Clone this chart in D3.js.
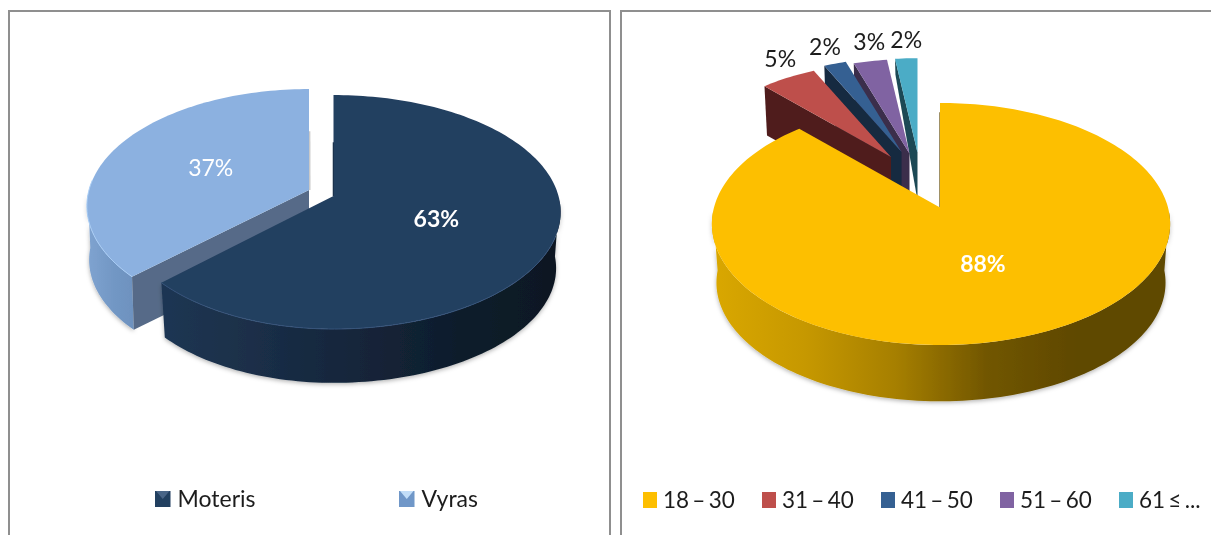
<!DOCTYPE html>
<html>
<head>
<meta charset="utf-8">
<script src="https://cdn.jsdelivr.net/npm/d3@7"></script>
<style>
html, body { margin: 0; padding: 0; background: #fff; overflow: hidden; }
text { font-family: Lato, "Open Sans", sans-serif; }
</style>
</head>
<body>
<div id="chart"></div>
<script>
// data
let genders = ["Moteris", "Vyras"];
let genderValues = [63, 37];
let ages = ["18 – 30", "31 – 40", "41 – 50", "51 – 60", "61 ≤ ..."];
let ageValues = [88, 5, 2, 3, 2];

// colours
let genderTop = ["#243f60", "#8cb1e0"];
let genderFace = ["#16283d", "#566b88"];
let ageTop = ["#fdbf00", "#be504c", "#366092", "#8064a2", "#4bacc6"];
let ageFace = ["#6a5000", "#4f1f1e", "#16293f", "#3b2d4b", "#1f4a55"];

let width = 1211, height = 535;
let chart = d3.select("#chart").append("svg")
    .attr("width", width)
    .attr("height", height);

let defs = chart.append("defs");
let soft = defs.append("filter").attr("id", "soft")
    .attr("x", "-2%").attr("y", "-2%").attr("width", "104%").attr("height", "104%");
soft.append("feGaussianBlur").attr("stdDeviation", 0.45);
let shadow = defs.append("filter").attr("id", "shadow")
    .attr("x", "-10%").attr("y", "-10%").attr("width", "120%").attr("height", "120%");
shadow.append("feDropShadow")
    .attr("dx", 0).attr("dy", 1.5).attr("stdDeviation", 2)
    .attr("flood-color", "#000").attr("flood-opacity", 0.3);

let root = chart.append("g").attr("filter", "url(#soft)");

function makeGradient(id, x1, x2, colors) {
    let g = defs.append("linearGradient").attr("id", id)
        .attr("gradientUnits", "userSpaceOnUse")
        .attr("x1", x1).attr("x2", x2).attr("y1", 0).attr("y2", 0);
    colors.forEach(function(c, i) {
        g.append("stop").attr("offset", i / (colors.length - 1)).attr("stop-color", c);
    });
}
makeGradient("sideDark", 162, 555, ["#1e3653", "#1a2e47", "#14253a", "#0f1d2c", "#0c1823"]);
makeGradient("sideLight", 88, 140, ["#7fa3d0", "#7297c4", "#6c90bd"]);
makeGradient("sideYellow", 715, 1168, ["#d9a700", "#c69800", "#a67f00", "#715600", "#5f4800", "#5f4800"]);

// panels
let line = d3.line();
root.append("path")
    .attr("d", line([[9, height + 5], [9, 11], [610, 11], [610, height + 5]]))
    .attr("fill", "none").attr("stroke", "#8f8f8f").attr("stroke-width", 2);
root.append("path")
    .attr("d", line([[621, height + 5], [621, 11], [width + 5, 11]]))
    .attr("fill", "none").attr("stroke", "#8f8f8f").attr("stroke-width", 2);

// pie seen from above with some perspective
function project(geo, angle, r) {
    let u = r * Math.sin(angle);
    let v = -r * Math.cos(angle);
    let w = 1 - geo.q * v;
    let a = u < 0 ? geo.aLeft : geo.aRight;
    return [geo.x + a * u / w, geo.y + geo.b * v / w];
}
function lower(geo, p, depth) {
    let s = geo.shrink || 0.98;
    return [geo.x + (p[0] - geo.x) * s, geo.y + (p[1] - geo.y) * s + depth];
}
function arcPoints(geo, a0, a1, r) {
    let n = Math.max(2, Math.ceil((a1 - a0) * 40));
    return d3.range(n + 1).map(function(i) {
        return project(geo, a0 + (a1 - a0) * i / n, r);
    });
}

let toRad = Math.PI / 180;

function drawSlice(d, geo, top, face, side) {
    let r = geo.r || 1;
    let outer = arcPoints(geo, d.startAngle, d.endAngle, r);
    let apex = [geo.x, geo.y];
    if (side) {
        // only the front of the rim can be seen
        let front = arcPoints(geo, Math.max(d.startAngle, 92 * toRad), Math.min(d.endAngle, 268 * toRad), r);
        root.append("path")
            .attr("d", line(front.concat(front.map(function(p) { return lower(geo, p, geo.depth); }).reverse())) + "Z")
            .attr("fill", side)
            .attr("filter", "url(#shadow)");
    }
    // radial face on the left of the slice
    let tip = outer[0];
    if (face) {
        let tipDepth = geo.tipDepth === undefined ? geo.depth : geo.tipDepth;
        root.append("path")
            .attr("d", line([apex, tip, lower(geo, tip, tipDepth), lower(geo, apex, geo.depth)]) + "Z")
            .attr("fill", face);
    }
    root.append("path")
        .attr("d", line([apex].concat(outer)) + "Z")
        .attr("fill", top);
}

function rim(geo, a0, a1, color) {
    root.append("path")
        .attr("d", line(arcPoints(geo, a0, a1, 1)))
        .attr("fill", "none").attr("stroke", color).attr("stroke-width", 1);
}
function edge(geo, angle, r0, color, w) {
    root.append("path")
        .attr("d", line([project(geo, angle, r0), project(geo, angle, 0)]))
        .attr("fill", "none").attr("stroke", color).attr("stroke-width", w);
}

let pie = d3.pie().sort(null).value(function(d) { return d; });

// left pie
let genderPie = pie(genderValues);
let darkGeo = { x: 333.5, y: 196, q: 0.137, b: 114.8, aLeft: 214, aRight: 225, depth: 56.5 };
let lightGeo = { x: 309, y: 190, q: 0.137, b: 114.8, aLeft: 220, aRight: 225, depth: 54, shrink: 0.99 };

edge(lightGeo, 2 * Math.PI - 0.001, 0.55, "#c9c9c9", 3);
drawSlice(genderPie[1], lightGeo, genderTop[1], genderFace[1], "url(#sideLight)");
rim(lightGeo, genderPie[1].startAngle, 275 * toRad, "#a9cdf5");
edge(darkGeo, 0, 0.5, "#16283d", 1.5);
drawSlice(genderPie[0], darkGeo, genderTop[0], null, "url(#sideDark)");
rim(darkGeo, 110 * toRad, genderPie[0].endAngle, "#35537a");

// right pie, the small slices are pulled out behind the big one
let agePie = pie(ageValues);
let yellowGeo = { x: 940, y: 207.5, q: 0.136, b: 118.8, aLeft: 226, aRight: 228, depth: 59 };
let apexX = [940, 891, 901.5, 909.5, 917.5];
let apexY = [207.5, 157, 152, 153.5, 152.5];
let tipDepths = [59, 48, 48, 48, 14];
let labelDx = [0, -8, -10, -1, 0];
let labelDy = [0, -18.5, -16.5, -19.5, -19];

function smallGeo(i) {
    return { x: apexX[i], y: apexY[i], q: 0.136, b: 118.8, aLeft: 226, aRight: 228, depth: 48, tipDepth: tipDepths[i], r: 0.89 };
}
for (let i = ages.length - 1; i > 0; i--) {
    drawSlice(agePie[i], smallGeo(i), ageTop[i], ageFace[i], null);
}
edge(yellowGeo, 0, 0.9, "#5f4800", 1.2);
drawSlice(agePie[0], yellowGeo, ageTop[0], null, "url(#sideYellow)");

// slice labels
function pieLabel(p, txt, color, weight, size) {
    root.append("text")
        .attr("x", p[0]).attr("y", p[1])
        .attr("text-anchor", "middle").attr("dy", "0.36em")
        .attr("fill", color).attr("font-weight", weight).attr("font-size", size)
        .text(txt);
}
function mid(d) { return (d.startAngle + d.endAngle) / 2; }

pieLabel(project(darkGeo, mid(genderPie[0]), 0.485), genderValues[0] + "%", "#fff", 700, 23);
pieLabel(project(lightGeo, mid(genderPie[1]), 0.5), genderValues[1] + "%", "#fff", 400, 23);
pieLabel(project(yellowGeo, mid(agePie[0]), 0.48), ageValues[0] + "%", "#fff", 700, 23);
agePie.slice(1).forEach(function(d, k) {
    let i = k + 1;
    let p = project(smallGeo(i), mid(d), 0.89);
    pieLabel([p[0] + labelDx[i], p[1] + labelDy[i]], ageValues[i] + "%", "#1c1c1c", 400, 23);
});

// legends
let xGender = d3.scalePoint().domain(genders).range([155, 399]);
let xAge = d3.scalePoint().domain(ages).range([643, 1119]);

genders.forEach(function(name, i) {
    let x = xGender(name);
    root.append("rect").attr("x", x).attr("y", 491).attr("width", 15.5).attr("height", 16)
        .attr("fill", i == 0 ? "#243f60" : "#6f97c8");
    // bevel of the small marker
    root.append("path")
        .attr("d", line([[x + 1, 491], [x + 14.5, 491], [x + 7.75, 499]]) + "Z")
        .attr("fill", i == 0 ? "#4a6587" : "#c3def8");
    root.append("text").attr("x", x + 22.5).attr("y", 507)
        .attr("font-size", 23).attr("fill", "#1c1c1c").text(name);
});
ages.forEach(function(name, i) {
    let x = xAge(name);
    root.append("rect").attr("x", x).attr("y", 492).attr("width", 14).attr("height", 16)
        .attr("fill", ageTop[i]);
    root.append("text").attr("x", x + 20).attr("y", 507.5)
        .attr("font-size", 22.5).attr("word-spacing", "-2.5px").attr("fill", "#1c1c1c").text(name);
});
</script>
</body>
</html>
